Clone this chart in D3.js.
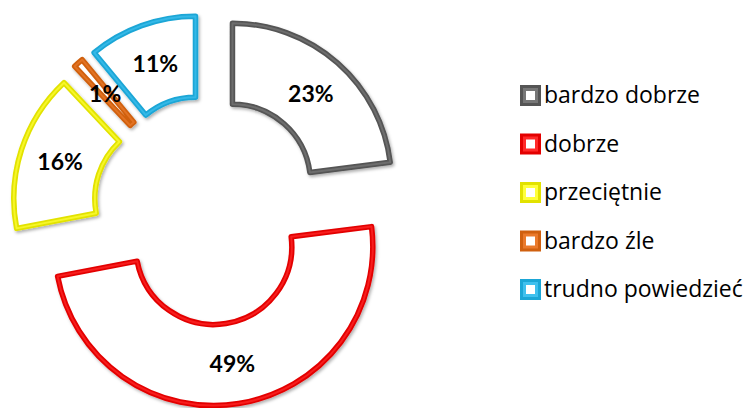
<!DOCTYPE html>
<html>
<head>
<meta charset="utf-8">
<script src="https://cdn.jsdelivr.net/npm/d3@7"></script>
<style>
  body { margin: 0; background: #fff; }
  svg { display: block; }
</style>
</head>
<body>
<div class="container"></div>
<script>
const categories = ["bardzo dobrze", "dobrze", "przeciętnie", "bardzo źle", "trudno powiedzieć"];
const values = [23, 49, 16, 1, 11];
const strokeColors = ["#555555", "#e30000", "#e2e200", "#d0600f", "#1ba6d6"];
const lightColors = ["#777777", "#ff2a2a", "#ffff3a", "#ea7a2c", "#3fc0ee"];

const width = 751;
const height = 408;
const cx = 208;
const cy = 210;
const outerR = 159;
const innerR = 78;
const explode = 37;

const svg = d3.select(".container")
  .append("svg")
  .attr("width", width)
  .attr("height", height);

const defs = svg.append("defs");
const shadow = defs.append("filter")
  .attr("id", "shadow")
  .attr("x", "-20%").attr("y", "-20%")
  .attr("width", "140%").attr("height", "140%");
shadow.append("feDropShadow")
  .attr("dx", 1.5).attr("dy", 2)
  .attr("stdDeviation", 1.5)
  .attr("flood-color", "#000")
  .attr("flood-opacity", 0.3);

const pie = d3.pie().sort(null).startAngle(0).endAngle(2 * Math.PI);
const arcs = pie(values);
const arc = d3.arc().innerRadius(innerR).outerRadius(outerR);
const labelArc = d3.arc().innerRadius((innerR + outerR) / 2).outerRadius((innerR + outerR) / 2);

const slices = svg.append("g")
  .selectAll("g")
  .data(arcs)
  .join("g")
  .attr("transform", (d) => {
    const mid = (d.startAngle + d.endAngle) / 2;
    const x = cx + explode * Math.sin(mid);
    const y = cy - explode * Math.cos(mid);
    return `translate(${x},${y})`;
  });

slices.append("path")
  .attr("d", arc)
  .attr("fill", "#fff")
  .attr("stroke", (d, i) => strokeColors[i])
  .attr("stroke-width", 5.5)
  .attr("stroke-linejoin", "round")
  .attr("filter", "url(#shadow)");

slices.append("path")
  .attr("d", arc)
  .attr("fill", "none")
  .attr("stroke", (d, i) => lightColors[i])
  .attr("stroke-width", 2)
  .attr("stroke-opacity", 0.7)
  .attr("stroke-linejoin", "round");

slices.append("text")
  .attr("transform", (d) => `translate(${labelArc.centroid(d)})`)
  .attr("text-anchor", "middle")
  .attr("dy", "0.36em")
  .attr("font-family", "Lato, sans-serif")
  .attr("font-size", 23)
  .attr("font-weight", "bold")
  .attr("fill", "#000")
  .text((d) => d.data + "%");

// legend
const legendY = d3.scalePoint()
  .domain(categories)
  .range([95, 289]);

const legend = svg.append("g")
  .selectAll("g")
  .data(categories)
  .join("g")
  .attr("transform", (d) => `translate(520,${legendY(d)})`);

legend.append("rect")
  .attr("x", 0).attr("y", -10)
  .attr("width", 21).attr("height", 21)
  .attr("fill", (d, i) => strokeColors[i]);

legend.append("rect")
  .attr("x", 3).attr("y", -7)
  .attr("width", 15).attr("height", 15)
  .attr("fill", (d, i) => lightColors[i]);

legend.append("rect")
  .attr("x", 6).attr("y", -4)
  .attr("width", 9).attr("height", 9)
  .attr("fill", "#fff");

legend.append("text")
  .attr("x", 24)
  .attr("y", 0)
  .attr("dy", "0.36em")
  .attr("font-family", "'Open Sans', sans-serif")
  .attr("font-size", 23)
  .attr("fill", "#000")
  .text((d) => d);
</script>
</body>
</html>
